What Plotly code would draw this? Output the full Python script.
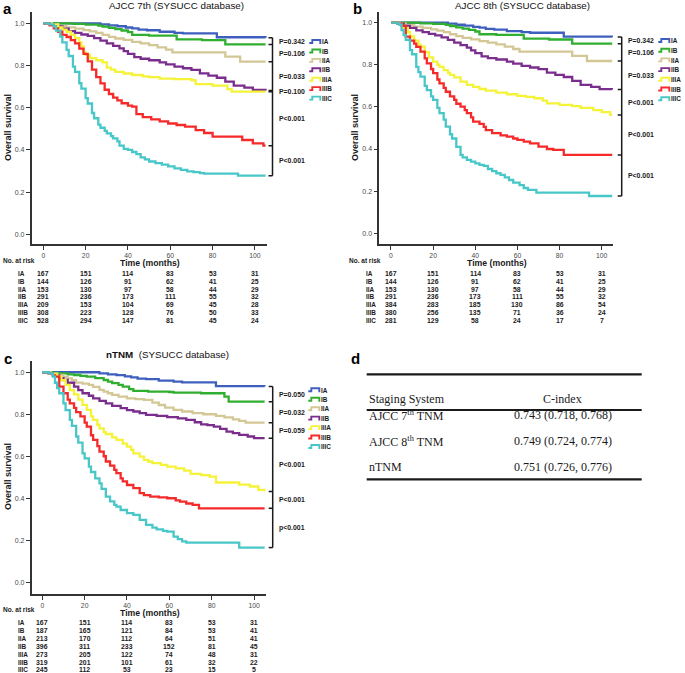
import plotly.graph_objects as go

W, H = 685, 673
FONT = "Liberation Sans, Arial, sans-serif"
SERIF = "Liberation Serif, Times New Roman, serif"

# ---------------- data ----------------
stages = ["IA", "IB", "IIA", "IIB", "IIIA", "IIIB", "IIIC"]
stage_colors = ["#3f5fbf", "#2fae2f", "#d3c796", "#7a2d8c", "#f5f23a", "#f52a2a", "#48c6c8"]

# shared curves (AJCC 7th / 8th)
t_IA = [0, 25, 27, 31, 35, 39, 42, 45, 49, 55, 62, 66, 82, 105]
s_IA = [1, 1, 0.995, 0.99, 0.986, 0.98, 0.976, 0.97, 0.967, 0.96, 0.955, 0.952, 0.934, 0.932]
t_IB = [0, 14, 20, 26, 28, 31, 34, 37, 40, 42, 50, 63, 75, 86, 105]
s_IB = [1, 0.997, 0.994, 0.989, 0.984, 0.978, 0.972, 0.966, 0.958, 0.945, 0.942, 0.924, 0.92, 0.90, 0.90]
t_IIA = [0, 4, 7, 11, 15, 19, 22, 25, 28, 31, 34, 38, 42, 46, 50, 54, 58, 61, 86, 93, 105]
s_IIA = [1, 0.995, 0.988, 0.981, 0.975, 0.968, 0.962, 0.955, 0.945, 0.936, 0.928, 0.921, 0.912, 0.905,
         0.897, 0.886, 0.875, 0.862, 0.842, 0.818, 0.818]
t_IIB = [0, 3, 6, 9, 12, 15, 18, 21, 24, 27, 30, 33, 36, 38, 40, 43, 46, 50, 55, 58, 62, 66, 70, 74, 78,
         82, 86, 90, 95, 99, 105]
s_IIB = [1, 0.995, 0.985, 0.975, 0.963, 0.955, 0.947, 0.94, 0.93, 0.918, 0.905, 0.893, 0.881, 0.868, 0.855,
         0.84, 0.832, 0.825, 0.815, 0.805, 0.795, 0.787, 0.779, 0.763, 0.752, 0.742, 0.724, 0.705, 0.695,
         0.684, 0.682]

# AJCC 7th specific
t7_IIIA = [0, 4, 7, 9, 11, 13, 15, 17, 18, 19, 20, 22, 25, 28, 30, 32, 34, 38, 42, 47, 50, 55, 62, 70, 72,
           80, 87, 89, 105]
s7_IIIA = [1, 0.995, 0.98, 0.97, 0.96, 0.945, 0.93, 0.91, 0.89, 0.865, 0.85, 0.835, 0.825, 0.815, 0.79,
           0.78, 0.77, 0.762, 0.755, 0.748, 0.745, 0.738, 0.735, 0.73, 0.712, 0.705, 0.688, 0.676, 0.676]
t7_IIIB = [0, 3, 5, 7, 9, 11, 13, 15, 17, 19, 21, 23, 25, 27, 29, 31, 33, 35, 37, 40, 42, 44, 47, 51, 55,
           59, 63, 67, 72, 76, 80, 94, 99, 104, 105]
s7_IIIB = [1, 0.99, 0.976, 0.96, 0.945, 0.935, 0.92, 0.905, 0.88, 0.855, 0.82, 0.78, 0.745, 0.715, 0.685,
           0.665, 0.648, 0.635, 0.621, 0.61, 0.605, 0.57, 0.555, 0.545, 0.535, 0.525, 0.518, 0.51, 0.494,
           0.48, 0.463, 0.447, 0.431, 0.42, 0.42]
t7_IIIC = [0, 3, 5, 6, 8, 9, 11, 12, 14, 15, 17, 18, 20, 21, 23, 24, 26, 27, 29, 30, 32, 33, 35, 36, 38,
           40, 42, 44, 46, 48, 50, 53, 56, 59, 62, 65, 68, 71, 74, 76, 92, 105]
s7_IIIC = [1, 0.995, 0.985, 0.965, 0.937, 0.91, 0.874, 0.845, 0.795, 0.77, 0.716, 0.69, 0.645, 0.62, 0.575,
           0.55, 0.52, 0.505, 0.49, 0.478, 0.465, 0.455, 0.44, 0.42, 0.405, 0.4, 0.39, 0.38, 0.365, 0.355,
           0.345, 0.337, 0.33, 0.322, 0.312, 0.305, 0.298, 0.295, 0.29, 0.288, 0.278, 0.278]

# AJCC 8th specific
t8_IIIA = [0, 3, 5, 6, 8, 9, 11, 13, 14, 16, 18, 20, 22, 23, 25, 27, 28, 30, 33, 36, 39, 42, 45, 50, 55,
           60, 64, 68, 72, 74, 80, 86, 90, 96, 100, 104, 105]
s8_IIIA = [1, 0.995, 0.985, 0.975, 0.955, 0.935, 0.915, 0.895, 0.886, 0.86, 0.835, 0.815, 0.8, 0.79, 0.775,
           0.762, 0.752, 0.74, 0.72, 0.705, 0.695, 0.685, 0.677, 0.668, 0.66, 0.652, 0.648, 0.641, 0.63,
           0.617, 0.61, 0.604, 0.595, 0.585, 0.575, 0.562, 0.562]
t8_IIIB = [0, 3, 5, 7, 9, 11, 12, 14, 16, 17, 19, 20, 22, 23, 25, 26, 28, 30, 31, 33, 35, 36, 38, 39, 42,
           44, 45, 48, 52, 55, 58, 60, 63, 66, 70, 74, 77, 82, 105]
s8_IIIB = [1, 0.995, 0.985, 0.934, 0.915, 0.9, 0.885, 0.862, 0.83, 0.807, 0.78, 0.76, 0.73, 0.712, 0.69,
           0.672, 0.65, 0.633, 0.615, 0.601, 0.585, 0.57, 0.55, 0.53, 0.519, 0.505, 0.49, 0.475, 0.465,
           0.459, 0.45, 0.443, 0.435, 0.427, 0.411, 0.4, 0.396, 0.372, 0.372]
t8_IIIC = [0, 3, 4, 5, 6, 7, 9, 10, 12, 13, 14, 16, 17, 19, 20, 22, 23, 25, 26, 28, 29, 31, 33, 34, 36,
           38, 40, 42, 44, 46, 48, 50, 52, 54, 56, 58, 61, 63, 65, 69, 94, 105]
s8_IIIC = [1, 0.995, 0.99, 0.965, 0.941, 0.918, 0.87, 0.85, 0.79, 0.765, 0.744, 0.7, 0.68, 0.65, 0.633,
           0.595, 0.57, 0.54, 0.506, 0.47, 0.45, 0.41, 0.372, 0.36, 0.348, 0.34, 0.332, 0.325, 0.32, 0.305,
           0.295, 0.285, 0.277, 0.265, 0.253, 0.24, 0.229, 0.215, 0.206, 0.193, 0.177, 0.177]

# nTNM specific
tn_IB = [0, 5, 8, 12, 15, 18, 21, 25, 29, 31, 33, 36, 38, 41, 43, 50, 60, 62, 75, 86, 88, 105]
sn_IB = [1, 0.997, 0.995, 0.99, 0.987, 0.983, 0.979, 0.972, 0.963, 0.955, 0.948, 0.94, 0.932, 0.92, 0.911,
         0.908, 0.906, 0.903, 0.9, 0.884, 0.86, 0.86]
tn_IIA = [0, 4, 7, 10, 12, 14, 16, 19, 22, 24, 27, 29, 31, 33, 36, 40, 44, 48, 52, 55, 58, 62, 66, 71, 76,
          82, 86, 90, 93, 96, 105]
sn_IIA = [1, 0.995, 0.987, 0.978, 0.971, 0.962, 0.951, 0.946, 0.94, 0.93, 0.916, 0.908, 0.9, 0.892, 0.884,
          0.876, 0.872, 0.868, 0.855, 0.844, 0.832, 0.821, 0.813, 0.805, 0.8, 0.792, 0.785, 0.776, 0.768,
          0.76, 0.76]
tn_IIB = [0, 3, 5, 8, 10, 12, 15, 17, 19, 22, 24, 27, 30, 33, 37, 40, 43, 46, 49, 54, 59, 64, 68, 72, 75,
          78, 81, 84, 87, 90, 93, 97, 100, 105]
sn_IIB = [1, 0.995, 0.985, 0.972, 0.963, 0.95, 0.932, 0.915, 0.9, 0.888, 0.876, 0.864, 0.852, 0.84, 0.829,
          0.82, 0.813, 0.805, 0.797, 0.792, 0.786, 0.78, 0.773, 0.762, 0.752, 0.748, 0.741, 0.73, 0.717,
          0.71, 0.702, 0.694, 0.686, 0.686]
tn_IIIA = [0, 3, 5, 7, 9, 11, 13, 15, 17, 19, 21, 23, 24, 26, 27, 29, 30, 33, 35, 38, 40, 42, 43, 46, 48,
           50, 52, 56, 59, 63, 67, 70, 75, 79, 82, 93, 98, 102, 105]
sn_IIIA = [1, 0.995, 0.99, 0.979, 0.962, 0.94, 0.915, 0.895, 0.87, 0.845, 0.821, 0.79, 0.773, 0.75, 0.733,
           0.715, 0.706, 0.69, 0.678, 0.66, 0.646, 0.63, 0.614, 0.598, 0.583, 0.575, 0.567, 0.559, 0.551,
           0.542, 0.532, 0.516, 0.51, 0.503, 0.475, 0.465, 0.456, 0.44, 0.432]
tn_IIIB = [0, 3, 5, 6, 8, 10, 12, 13, 15, 16, 18, 20, 21, 23, 24, 26, 27, 29, 30, 32, 34, 35, 37, 38, 40,
           43, 46, 48, 51, 55, 59, 63, 65, 68, 71, 74, 105]
sn_IIIB = [1, 0.995, 0.985, 0.979, 0.932, 0.9, 0.87, 0.852, 0.83, 0.81, 0.79, 0.76, 0.741, 0.7, 0.678,
           0.648, 0.622, 0.6, 0.575, 0.555, 0.535, 0.52, 0.495, 0.48, 0.463, 0.448, 0.424, 0.415, 0.408,
           0.404, 0.4, 0.39, 0.384, 0.375, 0.368, 0.352, 0.352]
tn_IIIC = [0, 3, 5, 6, 7, 8, 10, 11, 13, 14, 16, 17, 19, 20, 22, 23, 25, 27, 28, 30, 32, 34, 35, 37, 40,
           43, 46, 49, 52, 54, 57, 59, 62, 64, 66, 68, 93, 105]
sn_IIIC = [1, 0.995, 0.979, 0.95, 0.924, 0.9, 0.852, 0.82, 0.773, 0.745, 0.694, 0.665, 0.614, 0.59, 0.551,
           0.525, 0.495, 0.471, 0.445, 0.408, 0.385, 0.368, 0.36, 0.344, 0.329, 0.321, 0.297, 0.273, 0.26,
           0.252, 0.245, 0.241, 0.217, 0.205, 0.195, 0.189, 0.165, 0.165]

risk_times = [0, 20, 40, 60, 80, 100]
risk_7th = [[167, 151, 114, 83, 53, 31], [144, 126, 91, 62, 41, 25], [153, 130, 97, 58, 44, 29],
            [291, 236, 173, 111, 55, 32], [209, 153, 104, 69, 45, 28], [308, 223, 128, 76, 50, 33],
            [528, 294, 147, 81, 45, 24]]
risk_8th = [[167, 151, 114, 83, 53, 31], [144, 126, 91, 62, 41, 25], [153, 130, 97, 58, 44, 29],
            [291, 236, 173, 111, 55, 32], [384, 283, 185, 130, 86, 54], [380, 256, 135, 71, 36, 24],
            [281, 129, 58, 24, 17, 7]]
risk_ntnm = [[167, 151, 114, 83, 53, 31], [187, 165, 121, 84, 53, 41], [213, 170, 112, 64, 51, 41],
             [396, 311, 233, 152, 81, 45], [273, 205, 122, 74, 48, 31], [319, 201, 101, 61, 32, 22],
             [245, 112, 53, 23, 15, 5]]

p_7th = ["P=0.342", "P=0.106", "P=0.033", "P=0.100", "P<0.001", "P<0.001"]
p_8th = ["P=0.342", "P=0.106", "P=0.033", "P<0.001", "P<0.001", "P<0.001"]
p_ntnm = ["P=0.050", "P=0.032", "P=0.059", "P<0.001", "P<0.001", "p<0.001"]

table_header = ["Staging System", "C-index"]
table_systems = ["AJCC 7<sup>th</sup> TNM", "AJCC 8<sup>th</sup> TNM", "nTNM"]
table_cindex = ["0.743 (0.718, 0.768)", "0.749 (0.724, 0.774)", "0.751 (0.726, 0.776)"]

curves_7th = [(t_IA, s_IA), (t_IB, s_IB), (t_IIA, s_IIA), (t_IIB, s_IIB),
              (t7_IIIA, s7_IIIA), (t7_IIIB, s7_IIIB), (t7_IIIC, s7_IIIC)]
curves_8th = [(t_IA, s_IA), (t_IB, s_IB), (t_IIA, s_IIA), (t_IIB, s_IIB),
              (t8_IIIA, s8_IIIA), (t8_IIIB, s8_IIIB), (t8_IIIC, s8_IIIC)]
curves_ntnm = [(t_IA, s_IA), (tn_IB, sn_IB), (tn_IIA, sn_IIA), (tn_IIB, sn_IIB),
               (tn_IIIA, sn_IIIA), (tn_IIIB, sn_IIIB), (tn_IIIC, sn_IIIC)]


# ---------------- layout helpers ----------------
def px(x):
    return x / W


def py(y):
    return 1 - y / H


panels = [
    dict(ax="", curves=curves_7th, risk=risk_7th, pv=p_7th,
         xdom=(31.7, 267), ydom=(11.7, 244), xr=(-5.48, 105.7), yr=(-0.046, 1.055),
         title="AJCC 7th (SYSUCC database)", title_xy=(176, 6), letter="a", letter_xy=(8, 9),
         ylab_xy=(8, 128), xlab_xy=(150, 263.3), risk_lab_xy=(1.7, 260.5), row_x=16.7, row_y0=273.3,
         leg_x=309.3, leg_y0=41.7, leg_dy=9.43, br_x=272.5),
    dict(ax="2", curves=curves_8th, risk=risk_8th, pv=p_8th,
         xdom=(379.3, 613), ydom=(11.7, 244), xr=(-5.55, 105.36), yr=(-0.051, 1.052),
         title="AJCC 8th (SYSUCC database)", title_xy=(522, 6), letter="b", letter_xy=(357, 9),
         ylab_xy=(355, 128), xlab_xy=(497, 263.3), risk_lab_xy=(348, 260.5), row_x=365, row_y0=273.3,
         leg_x=658.3, leg_y0=40.7, leg_dy=9.7, br_x=621.7),
    dict(ax="3", curves=curves_ntnm, risk=risk_ntnm, pv=p_ntnm,
         xdom=(31.7, 265.7), ydom=(360.7, 594), xr=(-5.0, 105.5), yr=(-0.056, 1.055),
         title="<b>nTNM</b>  (SYSUCC database)", title_xy=(167, 354), letter="c", letter_xy=(8, 358),
         ylab_xy=(8, 477), xlab_xy=(150, 612.7), risk_lab_xy=(1.7, 609.5), row_x=16.7, row_y0=622.7,
         leg_x=308.3, leg_y0=390, leg_dy=9.45, br_x=272.7),
]

fig = go.Figure()
annotations = []
shapes = []

TXT = "#1a1a1a"


def ann(text, x, y, size, bold=False, xanchor="center", yanchor="middle", xref="paper", yref="paper",
        color=TXT, family=FONT, angle=0):
    if bold:
        text = "<b>" + text + "</b>"
    annotations.append(dict(text=text, x=x, y=y, xref=xref, yref=yref, xanchor=xanchor, yanchor=yanchor,
                            showarrow=False, textangle=angle,
                            font=dict(size=size, color=color, family=family), borderpad=0))


axis_common = dict(showgrid=False, zeroline=False, showline=True, linecolor="#333333", linewidth=1.6,
                   ticks="outside", ticklen=4, tickwidth=1, tickcolor="#333333",
                   tickfont=dict(size=6.8, color="#4a4a4a", family=FONT), fixedrange=True)

layout_axes = {}
for p in panels:
    sfx = p["ax"]
    xa = "x" + sfx
    ya = "y" + sfx
    for i, (t, s) in enumerate(p["curves"]):
        fig.add_trace(go.Scatter(x=t, y=s, mode="lines", xaxis=xa, yaxis=ya,
                                 line=dict(color=stage_colors[i], width=2.3, shape="hv"),
                                 showlegend=False, hoverinfo="skip"))
    layout_axes["xaxis" + sfx] = dict(axis_common, domain=[px(p["xdom"][0]), px(p["xdom"][1])],
                                      range=list(p["xr"]), tickmode="array", tickvals=risk_times,
                                      anchor=ya)
    layout_axes["yaxis" + sfx] = dict(axis_common, domain=[py(p["ydom"][1]), py(p["ydom"][0])],
                                      range=list(p["yr"]), tickmode="array",
                                      tickvals=[0, 0.2, 0.4, 0.6, 0.8, 1.0], tickformat=".1f",
                                      tickfont=dict(size=7, color="#4a4a4a", family=FONT), anchor=xa)

    # titles & labels
    ann(p["title"], px(p["title_xy"][0]), py(p["title_xy"][1]), 9.8, color="#111111")
    ann(p["letter"], px(p["letter_xy"][0]), py(p["letter_xy"][1]), 15, bold=True, color="#000000")
    ann("Overall survival", px(p["ylab_xy"][0]), py(p["ylab_xy"][1]), 9, bold=True, angle=-90)
    ann("Time (months)", px(p["xlab_xy"][0]), py(p["xlab_xy"][1]), 8.7, bold=True)
    ann("No. at risk", px(p["risk_lab_xy"][0]), py(p["risk_lab_xy"][1]), 6.5, bold=True, xanchor="left")

    # risk table
    for r, stg in enumerate(stages):
        yy = py(p["row_y0"] + r * 7.88)
        ann(stg, px(p["row_x"]), yy, 6.4, bold=True, xanchor="left")
        for c, tm in enumerate(risk_times):
            ann(str(p["risk"][r][c]), tm, yy, 6.9, bold=True, xref=xa, yref="paper")

    # legend
    for r, stg in enumerate(stages):
        yc = p["leg_y0"] + r * p["leg_dy"]
        x0 = p["leg_x"]
        x1 = x0 + 11
        path = "M {a} {b} L {c} {b} L {c} {d} L {e} {d} L {e} {f}".format(
            a=px(x0), b=py(yc + 1.3), c=px(x0 + 3), d=py(yc - 1.7), e=px(x1), f=py(yc + 2.2))
        shapes.append(dict(type="path", path=path, xref="paper", yref="paper",
                           line=dict(color=stage_colors[r], width=1.9)))
        ann(stg, px(x1 + 1), py(yc), 6.4, bold=True, xanchor="left")

    # brackets with p-values, at the curve end levels
    ends = [s[-1] for (t, s) in p["curves"]]
    bx = px(p["br_x"])
    shapes.append(dict(type="line", xref="paper", yref=ya, x0=bx, x1=bx, y0=ends[0], y1=ends[-1],
                       line=dict(color="#1a1a1a", width=1.5)))
    for e in ends:
        shapes.append(dict(type="line", xref="paper", yref=ya, x0=px(p["br_x"] - 4), x1=bx, y0=e, y1=e,
                           line=dict(color="#1a1a1a", width=1.5)))
    for i, lab in enumerate(p["pv"]):
        ann(lab, px(p["br_x"] + 5), (ends[i] + ends[i + 1]) / 2, 6.9, bold=True, xanchor="left",
            yref=ya)

# ---------------- panel d table ----------------
ann("d", px(355), py(358), 15, bold=True, color="#000000")
tx0, tx1 = 366.7, 641.7
for yl in (374.3, 410, 479.3):
    shapes.append(dict(type="line", xref="paper", yref="paper", x0=px(tx0), x1=px(tx1), y0=py(yl), y1=py(yl),
                       line=dict(color="#1a1a1a", width=2.2)))
ann(table_header[0], px(368), py(399.3), 12, xanchor="left", family=SERIF, color="#1a1a1a")
ann(table_header[1], px(562.7), py(399.3), 12, family=SERIF, color="#1a1a1a")
for i, (sysname, cidx) in enumerate(zip(table_systems, table_cindex)):
    yy = py(415 + i * 26)
    ann(sysname, px(368), yy, 12, xanchor="left", family=SERIF, color="#1a1a1a")
    ann(cidx, px(562.7), yy, 12, family=SERIF, color="#1a1a1a")

fig.update_layout(width=W, height=H, margin=dict(l=0, r=0, t=0, b=0), paper_bgcolor="white",
                  plot_bgcolor="white", showlegend=False, annotations=annotations, shapes=shapes,
                  font=dict(family=FONT), **layout_axes)

fig.write_html("out.html", config={"displayModeBar": False},
               post_script="document.body.style.margin='0px';document.body.style.padding='0px';"
                           "document.body.style.overflow='hidden';")
